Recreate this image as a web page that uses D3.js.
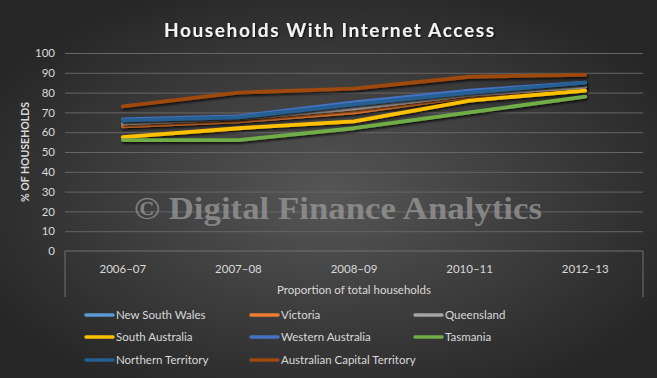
<!DOCTYPE html>
<html><head><meta charset="utf-8">
<script src="https://cdn.jsdelivr.net/npm/d3@7"></script>
<style>html,body{margin:0;padding:0;background:#333;}svg{display:block;}</style>
</head><body>
<svg id="chart" width="657" height="378"></svg>
<script>
const categories = ["2006–07","2007–08","2008–09","2010–11","2012–13"];
const seriesNames = ["New South Wales","Victoria","Queensland","South Australia","Western Australia","Tasmania","Northern Territory","Australian Capital Territory"];
const seriesColors = ["#5B9BD5","#ED7D31","#A5A5A5","#FFC000","#4472C4","#70AD47","#255E91","#9E480E"];
const nsw = [64, 67, 73, 79, 83];
const vic = [63, 65.5, 70, 78, 83];
const qld = [64.5, 67, 72, 79, 83];
const sa  = [57.5, 62, 65.5, 76, 81];
const wa  = [66.5, 68, 75, 81, 85];
const tas = [56, 56, 62, 70, 78];
const nt  = [66, 67.5, 74, 80, 85];
const act = [73, 80, 82, 88, 89];
const seriesValues = [nsw, vic, qld, sa, wa, tas, nt, act];
const yTicks = [0,10,20,30,40,50,60,70,80,90,100];
const title = "Households With Internet Access";
const yTitle = "% OF HOUSEHOLDS";
const xTitle = "Proportion of total households";
const watermark = "© Digital Finance Analytics";

(function(){
const svg = d3.select("#chart");
const W = 657, H = 378;
const defs = svg.append("defs");
const rg = defs.append("radialGradient").attr("id","bg").attr("cx","50%").attr("cy","52%").attr("r","60%");
rg.append("stop").attr("offset","0%").attr("stop-color","#565656");
rg.append("stop").attr("offset","100%").attr("stop-color","#262626");
const f = defs.append("filter").attr("id","sh").attr("x","-10%").attr("y","-30%").attr("width","120%").attr("height","160%");
f.append("feDropShadow").attr("dx",1).attr("dy",2).attr("stdDeviation",1.2).attr("flood-color","#000").attr("flood-opacity",0.7);
const ft = defs.append("filter").attr("id","tsh");
ft.append("feDropShadow").attr("dx",1).attr("dy",1).attr("stdDeviation",0.8).attr("flood-color","#000").attr("flood-opacity",0.8);

svg.append("rect").attr("width",W).attr("height",H).attr("fill","url(#bg)");

const font = "Lato, 'Open Sans', sans-serif";
const txt = "#d9d9d9";

const mLeft = 65, mRight = 643, mTop = 53, mBottom = 251;
const x = d3.scaleBand().domain(categories).range([mLeft,mRight]);
const y = d3.scaleLinear().domain([0,100]).range([mBottom,mTop]);

svg.append("text").attr("x",329).attr("y",37).attr("text-anchor","middle")
  .attr("font-family",font).attr("font-weight","bold").attr("font-size",19)
  .attr("fill","#f2f2f2").attr("filter","url(#tsh)")
  .attr("textLength",330).attr("lengthAdjust","spacing").text(title);

const yAxis = d3.axisLeft(y).tickValues(yTicks).tickSize(-(mRight-mLeft)).tickPadding(10);
const ga = svg.append("g").attr("transform",`translate(${mLeft},0)`).call(yAxis);
ga.select(".domain").remove();
ga.selectAll(".tick line").attr("stroke","#666").attr("stroke-width",1);
ga.selectAll(".tick").filter(d=>d===0).select("line").remove();
ga.selectAll(".tick text").attr("fill",txt).attr("font-family",font).attr("font-size",11.5);

const gx = svg.append("g").attr("transform",`translate(0,${mBottom})`).call(d3.axisBottom(x).tickSize(0).tickPadding(14));
gx.select(".domain").attr("stroke","#707070").attr("d",`M${mLeft},46V0H${mRight}V46`);
gx.selectAll(".tick text").attr("fill",txt).attr("font-family",font).attr("font-size",11.5);

svg.append("text").attr("x",(mLeft+mRight)/2).attr("y",294).attr("text-anchor","middle")
  .attr("font-family",font).attr("font-size",11.5).attr("fill",txt).text(xTitle);

svg.append("text").attr("transform","translate(29,152) rotate(-90)").attr("text-anchor","middle")
  .attr("font-family",font).attr("font-weight","bold").attr("font-size",10.5).attr("fill",txt).text(yTitle);

svg.append("text").attr("x",338).attr("y",219).attr("text-anchor","middle")
  .attr("font-family","'Liberation Serif', 'DejaVu Serif', serif").attr("font-weight","bold").attr("font-size",31)
  .attr("fill","#9a9a9a").attr("fill-opacity",0.75)
  .attr("textLength",408).attr("lengthAdjust","spacingAndGlyphs").text(watermark);

const line = d3.line().x((d,i)=>x(categories[i])+x.bandwidth()/2).y(d=>y(d));
const gl = svg.append("g");
seriesValues.forEach((vals,i)=>{
  gl.append("path").datum(vals).attr("d",line).attr("fill","none")
    .attr("stroke",seriesColors[i]).attr("stroke-width",3.8)
    .attr("stroke-linecap","round").attr("stroke-linejoin","round")
    .attr("filter","url(#sh)");
});

const colX = [86, 251, 415];
const rowY = [315, 337, 360];
const lg = svg.append("g");
seriesNames.forEach((n,i)=>{
  const cx = colX[i%3], cy = rowY[Math.floor(i/3)];
  lg.append("line").attr("x1",cx).attr("x2",cx+27).attr("y1",cy).attr("y2",cy)
    .attr("stroke",seriesColors[i]).attr("stroke-width",3.5).attr("stroke-linecap","round");
  lg.append("text").attr("x",cx+30).attr("y",cy+4).attr("font-family",font).attr("font-size",11.5)
    .attr("fill",txt).text(n);
});
})();
</script>
</body></html>
